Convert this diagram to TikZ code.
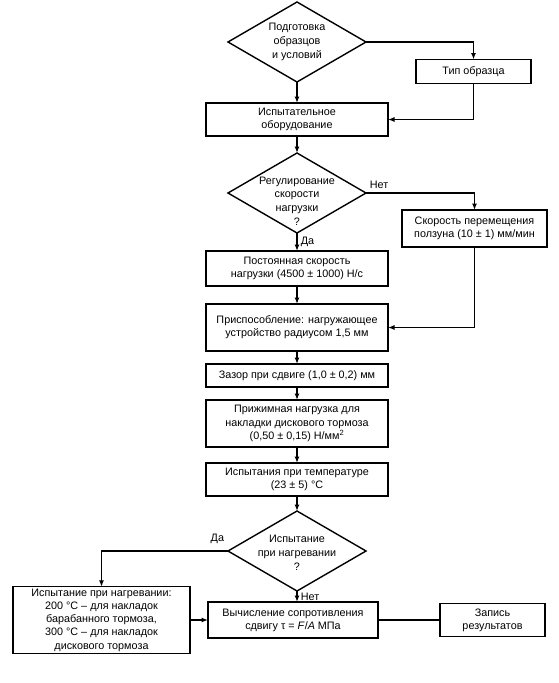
\documentclass[tikz,border=0pt]{standalone}
\usepackage{fontspec}
\setmainfont{Liberation Sans}
\usetikzlibrary{shapes.geometric,arrows.meta,positioning}

\begin{document}
\begin{tikzpicture}[
    x=1pt, y=1pt,
    font=\fontsize{10.8}{13.2}\selectfont,
    box/.style={rectangle, draw=black, line width=1.4pt, minimum width=182pt,
                align=center, inner sep=2pt, outer sep=0pt},
    dec/.style={diamond, draw=black, line width=1.4pt, minimum width=138pt,
                minimum height=80pt, inner sep=0pt, outer sep=0pt},
    dectext/.style={align=center, inner sep=0pt, font=\fontsize{10.8}{13.8}\selectfont},
    arr/.style={-{Latex[length=6.5pt, width=5pt]}, line width=1.2pt},
    con/.style={line width=1.2pt}
]
\useasboundingbox (0,0) rectangle (559,-683);
\node[dec, label={[dectext]center:Подготовка\\образцов\\и условий}] (prep) at (297,-42) {};
\node[box, below=21pt of prep, minimum height=33pt] (equip) {Испытательное\\оборудование};
\node[box, minimum width=115pt, minimum height=24pt, right=28pt of equip, yshift=48pt] (type) {Тип образца};
\node[dec, below=17pt of equip, label={[dectext, yshift=-8pt]center:Регулирование\\скорости\\нагрузки\\?}] (ctrl) {};
\node[box, below=18pt of ctrl, minimum height=35pt] (const) {Постоянная скорость\\нагрузки (4500 ± 1000) Н/с};
\node[box, minimum width=145pt, minimum height=37pt, right=14pt of const, yshift=40pt] (speed) {Скорость перемещения\\ползуна (10 ± 1) мм/мин};
\node[box, below=18pt of const, minimum height=47pt] (fixture) {Приспособление: нагружающее\\устройство радиусом 1,5 мм};
\node[box, below=13pt of fixture, minimum height=23pt] (gap) {Зазор при сдвиге (1,0 ± 0,2) мм};
\node[box, below=13pt of gap, minimum height=47pt] (clamp) {Прижимная нагрузка для\\накладки дискового тормоза\\(0,50 ± 0,15) Н/мм\textsuperscript{2}};
\node[box, below=16pt of clamp, minimum height=33pt] (temp) {Испытания при температуре\\(23 ± 5) °С};
\node[dec, below=15pt of temp, label={[dectext, yshift=-2pt]center:Испытание\\при нагревании\\?}] (heat) {};
\node[box, below=11pt of heat, xshift=-4pt, minimum width=170pt, minimum height=36pt] (calc) {Вычисление сопротивления\\сдвигу τ = \textit{F}/\textit{A} МПа};
\node[box, left=18pt of calc, minimum width=177pt, minimum height=64pt] (hot) {Испытание при нагревании:\\200 °С – для накладок\\барабанного тормоза,\\300 °С – для накладок\\дискового тормоза};
\node[box, right=62pt of calc, minimum width=105pt, minimum height=33pt] (rec) {Запись\\результатов};

\draw[arr] (prep) -- (equip);
\draw[arr] (prep.east) -| (type.north);
\draw[arr] (type.south) |- (equip.east);
\draw[arr] (equip) -- (ctrl);
\draw[arr] (ctrl.east) node[above right] {Нет} -| (speed.north);
\draw[arr] (ctrl) -- (const) node[midway, right] {Да};
\draw[arr] (speed.south) |- (fixture.east);
\draw[arr] (const) -- (fixture);
\draw[arr] (fixture) -- (gap);
\draw[arr] (gap) -- (clamp);
\draw[arr] (clamp) -- (temp);
\draw[arr] (temp) -- (heat);
\draw[arr] (heat.west) node[above left, yshift=3pt] {Да} -| (hot.north);
\draw[arr] (heat.south) -- (heat.south |- calc.north) node[midway, right] {Нет};
\draw[arr] (hot.east |- calc.west) -- (calc.west);
\draw[con] (calc) -- (rec);
\end{tikzpicture}
\end{document}
